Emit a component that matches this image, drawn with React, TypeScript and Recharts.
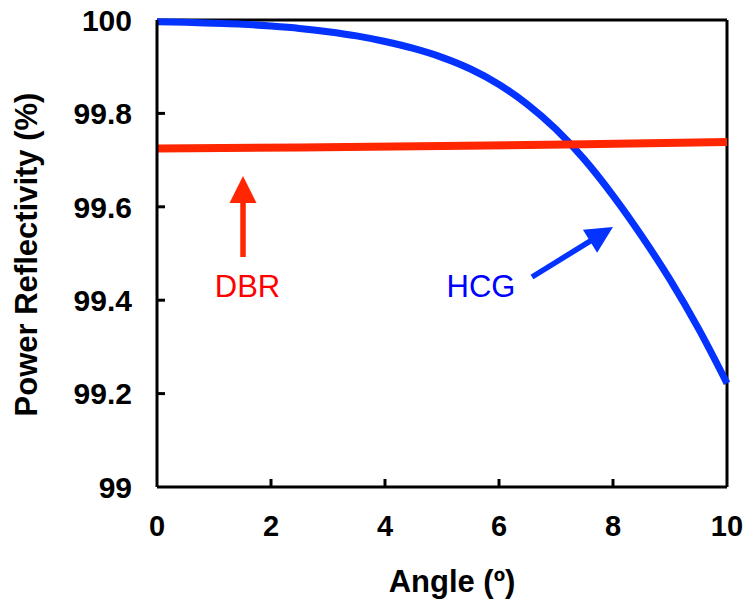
import React from 'react';
import {
  LineChart,
  Line,
  XAxis,
  YAxis,
  ReferenceLine,
  ReferenceDot,
} from 'recharts';

// Incidence angle (degrees) and power reflectivity (%) for each mirror type
const hcgAngles = [0, 0.5, 1, 1.5, 2, 2.5, 3, 3.5, 4, 4.5, 5, 5.5, 6, 6.5, 7, 7.5, 8, 8.5, 9, 9.5, 10];
const hcgReflectivity = [
  99.996, 99.995, 99.993, 99.991, 99.987, 99.982, 99.975, 99.966, 99.954, 99.939, 99.92,
  99.895, 99.862, 99.819, 99.766, 99.701, 99.624, 99.538, 99.444, 99.339, 99.222,
];

const dbrAngles = [0, 2.5, 5, 7.5, 10];
const dbrReflectivity = [99.725, 99.727, 99.73, 99.734, 99.739];

const xTicks = [0, 2, 4, 6, 8, 10];
const yTicks = [99, 99.2, 99.4, 99.6, 99.8, 100];

const hcgData = hcgAngles.map((angle, i) => ({ angle, value: hcgReflectivity[i] }));
const dbrData = dbrAngles.map((angle, i) => ({ angle, value: dbrReflectivity[i] }));

const FONT = '"Liberation Sans", Arial, Helvetica, sans-serif';
const BLUE = '#0433FF';
const RED = '#FF2600';

// Arrow annotations, in data coordinates
const dbrArrow = { from: { x: 1.509, y: 99.4925 }, to: { x: 1.509, y: 99.666 } };
const hcgArrow = { from: { x: 6.579, y: 99.4497 }, to: { x: 8.0, y: 99.5567 } };
const dbrLabel = { x: 1.588, y: 99.407, text: 'DBR' };
const hcgLabel = { x: 5.684, y: 99.407, text: 'HCG' };

const makeArrow = (color: string) => (props: any) => {
  const { x1, y1, x2, y2 } = props;
  const dx = x2 - x1;
  const dy = y2 - y1;
  const len = Math.sqrt(dx * dx + dy * dy) || 1;
  const ux = dx / len;
  const uy = dy / len;
  const headLen = 27;
  const headHalf = 13.5;
  const bx = x2 - ux * headLen;
  const by = y2 - uy * headLen;
  const px = -uy;
  const py = ux;
  const pts = `${x2},${y2} ${bx + px * headHalf},${by + py * headHalf} ${bx - px * headHalf},${by - py * headHalf}`;
  return (
    <g>
      <line x1={x1} y1={y1} x2={bx + ux * 2} y2={by + uy * 2} stroke={color} strokeWidth={5.5} />
      <polygon points={pts} fill={color} />
    </g>
  );
};

const makeText = (text: string, color: string) => (props: any) => (
  <text
    x={props.cx}
    y={props.cy}
    textAnchor="middle"
    fill={color}
    fontFamily={FONT}
    fontSize={31}
  >
    {text}
  </text>
);

const XTick = (props: any) => {
  const { x, y, payload } = props;
  const v = payload.value;
  const showLine = v !== 0 && v !== 10;
  return (
    <g>
      {showLine && <line x1={x} y1={y} x2={x} y2={y - 8} stroke="#000" strokeWidth={3} />}
      <text
        x={x}
        y={y + 49}
        textAnchor="middle"
        fontFamily={FONT}
        fontWeight="bold"
        fontSize={29}
        fill="#000"
      >
        {v}
      </text>
    </g>
  );
};

const YTick = (props: any) => {
  const { x, y, payload } = props;
  const v = payload.value;
  const showLine = v !== 99 && v !== 100;
  return (
    <g>
      {showLine && <line x1={x} y1={y} x2={x + 8} y2={y} stroke="#000" strokeWidth={3} />}
      <text
        x={x - 25}
        y={y}
        dy="0.36em"
        textAnchor="end"
        fontFamily={FONT}
        fontWeight="bold"
        fontSize={30}
        fill="#000"
      >
        {String(Math.round(v * 10) / 10)}
      </text>
    </g>
  );
};

const YTitle = (props: any) => {
  const vb = props.viewBox || { x: 0, y: 20, width: 157, height: 467 };
  const cx = vb.x + 37;
  const cy = vb.y + vb.height / 2 + 1;
  return (
    <text
      x={cx}
      y={cy}
      transform={`rotate(-90 ${cx} ${cy})`}
      textAnchor="middle"
      fontFamily={FONT}
      fontWeight="bold"
      fontSize={31}
      fill="#000"
    >
      Power Reflectivity (%)
    </text>
  );
};

const XTitle = (props: any) => {
  const vb = props.viewBox || { x: 157, y: 487, width: 570, height: 117 };
  return (
    <text
      x={vb.x + vb.width / 2 + 10}
      y={vb.y + 105}
      textAnchor="middle"
      fontFamily={FONT}
      fontWeight="bold"
      fontSize={31}
      fill="#000"
    >
      Angle (º)
    </text>
  );
};

export default function App() {
  return (
    <div style={{ position: 'absolute', left: 0, top: 0, width: 746, height: 604, background: '#fff' }}>
      <LineChart width={746} height={604} margin={{ top: 20, right: 19, bottom: 0, left: 0 }}>
        <XAxis
          dataKey="angle"
          type="number"
          domain={[0, 10]}
          ticks={xTicks}
          height={117}
          tickSize={0}
          tickMargin={0}
          tick={<XTick />}
          tickLine={false}
          axisLine={{ stroke: '#000', strokeWidth: 3 }}
          allowDuplicatedCategory={false}
          label={<XTitle />}
        />
        <YAxis
          type="number"
          domain={[99, 100]}
          ticks={yTicks}
          width={157}
          tickSize={0}
          tickMargin={0}
          tick={<YTick />}
          tickLine={false}
          axisLine={{ stroke: '#000', strokeWidth: 3 }}
          label={<YTitle />}
        />
        {/* top and right edges of the plot frame */}
        <ReferenceLine y={100} stroke="#000" strokeWidth={3} />
        <ReferenceLine x={10} stroke="#000" strokeWidth={3} />
        <Line
          data={hcgData}
          dataKey="value"
          type="monotone"
          stroke={BLUE}
          strokeWidth={7}
          dot={false}
          activeDot={false}
          isAnimationActive={false}
        />
        <Line
          data={dbrData}
          dataKey="value"
          type="linear"
          stroke={RED}
          strokeWidth={8}
          dot={false}
          activeDot={false}
          isAnimationActive={false}
        />
        <ReferenceLine
          segment={[dbrArrow.from, dbrArrow.to]}
          stroke={RED}
          shape={makeArrow(RED)}
        />
        <ReferenceLine
          segment={[hcgArrow.from, hcgArrow.to]}
          stroke={BLUE}
          shape={makeArrow(BLUE)}
        />
        <ReferenceDot x={dbrLabel.x} y={dbrLabel.y} r={0} shape={makeText(dbrLabel.text, '#FF0000')} />
        <ReferenceDot x={hcgLabel.x} y={hcgLabel.y} r={0} shape={makeText(hcgLabel.text, '#0000FF')} />
      </LineChart>
    </div>
  );
}
